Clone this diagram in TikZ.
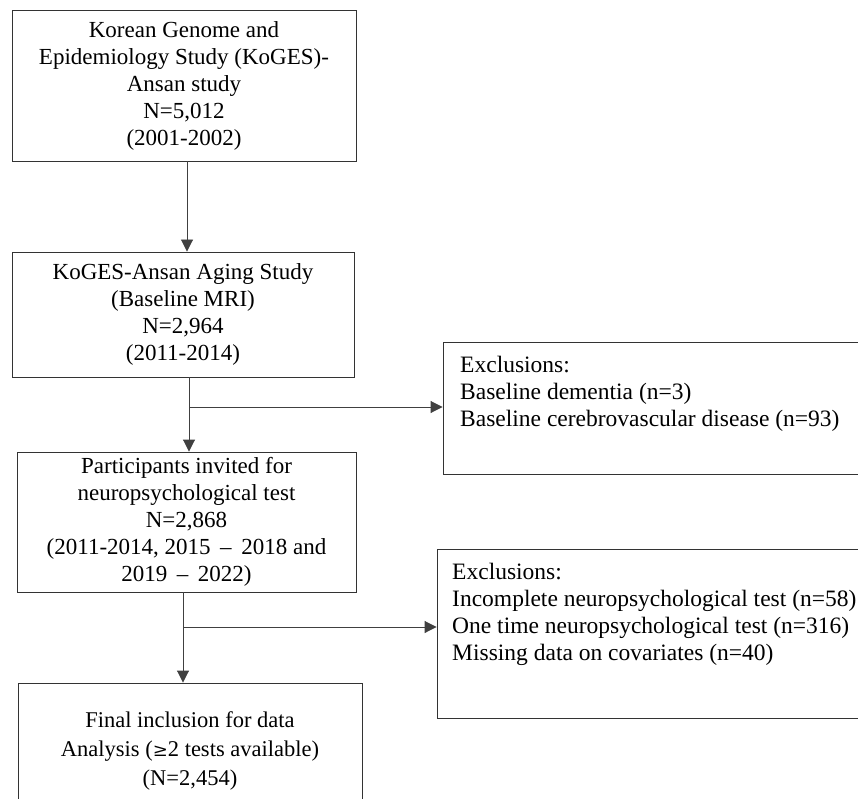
\documentclass[tikz,border=0pt]{standalone}
\usepackage{fontspec}
\setmainfont{Liberation Serif}
\usetikzlibrary{arrows.meta}
\begin{document}
\begin{tikzpicture}[x=1pt,y=-1pt,
  box/.style={draw=black!80, line width=0.9pt, rectangle, inner sep=0pt},
  txt/.style={font=\fontsize{23}{27}\selectfont, align=center, inner sep=0pt, text=black},
  exct/.style={font=\fontsize{23.5}{27}\selectfont, align=left, inner sep=0pt, anchor=north west, text=black},
  conn/.style={draw=black!75, line width=0.9pt},
  arr/.style={conn, -{Triangle[width=12pt,length=12pt]}}]
\useasboundingbox (0,0) rectangle (858,799);
\clip (0,0) rectangle (858,799);

\node[box, txt, minimum width=344pt, minimum height=151pt] (b1) at (184,85.5)
  {Korean Genome and\\Epidemiology Study (KoGES)-\\Ansan study\\N=5,012\\(2001-2002)};
\node[box, txt, minimum width=342pt, minimum height=125pt] (b2) at (183,314.5)
  {KoGES-Ansan Aging Study\\(Baseline MRI)\\N=2,964\\(2011-2014)};
\node[box, txt, minimum width=339pt, minimum height=140pt] (b3) at (186.5,522)
  {Participants invited for\\neuropsychological test\\N=2,868\\(2011-2014, 2015 \,--\, 2018 and\\2019 \,--\, 2022)};
\node[box, txt, font=\fontsize{22.5}{29}\selectfont, minimum width=344pt, minimum height=136pt] (b4) at (190,751)
  {Final inclusion for data\\Analysis ({\fontspec{DejaVu Serif}\fontsize{18}{29}\selectfont ≥}2 tests available)\\(N=2,454)};

\node[box, minimum width=427pt, minimum height=132pt] (e1) at (656.5,408) {};
\node[exct] (e1t) at (460,356)
  {Exclusions:\\Baseline dementia (n=3)\\Baseline cerebrovascular disease (n=93)};
\node[box, minimum width=433pt, minimum height=169pt] (e2) at (653.5,633.5) {};
\node[exct] (e2t) at (452,563)
  {Exclusions:\\Incomplete neuropsychological test (n=58)\\One time neuropsychological test (n=316)\\Missing data on covariates (n=40)};

\coordinate (v1) at (187,0);
\draw[arr] (b1.south -| v1) -- (b2.north -| v1);

\coordinate (j1) at (189,407);
\draw[arr] (b2.south -| j1) -- (b3.north -| j1);
\draw[arr] (j1) -- (j1 -| e1.west);

\coordinate (j2) at (183,627);
\draw[arr] (b3.south -| j2) -- (b4.north -| j2);
\draw[arr] (j2) -- (j2 -| e2.west);
\end{tikzpicture}
\end{document}
